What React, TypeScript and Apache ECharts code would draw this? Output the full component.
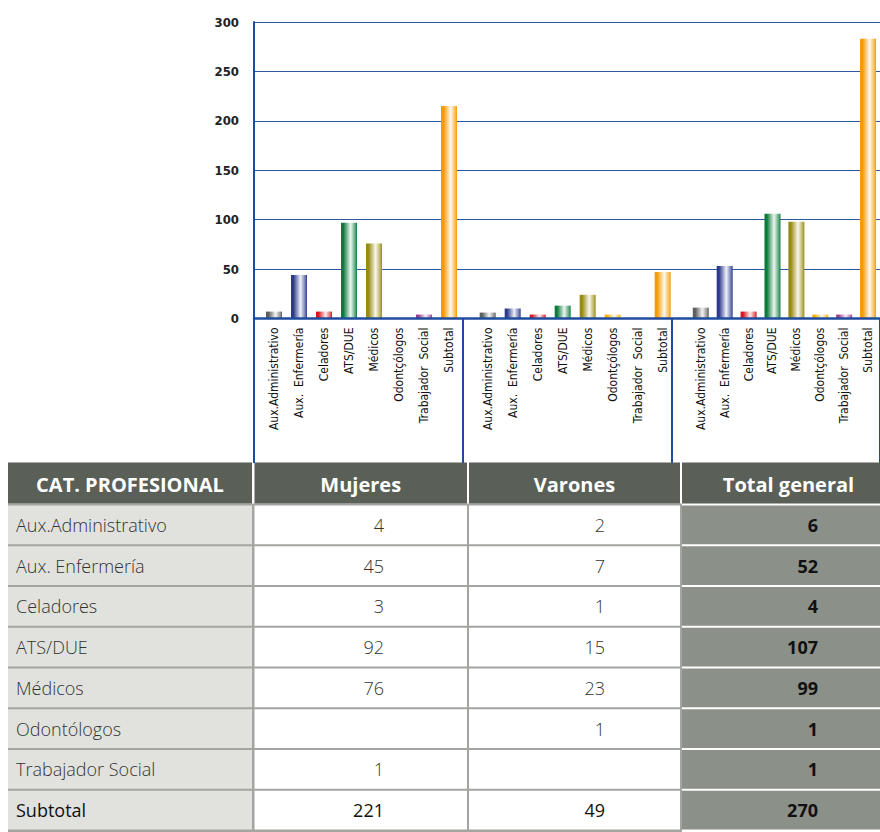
import React, { useEffect, useRef } from "react";
import * as echarts from "echarts";

// ---- Data ----
const groups = ["Mujeres", "Varones", "Total general"];
const barCategories = [
  "Aux.Administrativo",
  "Aux.  Enfermería",
  "Celadores",
  "ATS/DUE",
  "Médicos",
  "Odontçólogos",
  "Trabajador  Social",
  "Subtotal",
];
const mujeresBars = [7, 44, 7, 97, 76, 0, 4, 215];
const varonesBars = [6, 10, 4, 13, 24, 4, 0, 47];
const totalBars = [11, 53, 7, 106, 98, 4, 4, 283];

const tableHeader = ["CAT. PROFESIONAL", "Mujeres", "Varones", "Total general"];
const tableCategories = [
  "Aux.Administrativo",
  "Aux. Enfermería",
  "Celadores",
  "ATS/DUE",
  "Médicos",
  "Odontólogos",
  "Trabajador Social",
  "Subtotal",
];
const mujeresTable: (number | null)[] = [4, 45, 3, 92, 76, null, 1, 221];
const varonesTable: (number | null)[] = [2, 7, 1, 15, 23, 1, null, 49];
const totalTable: (number | null)[] = [6, 52, 4, 107, 99, 1, 1, 270];

// ---- Styles ----
const barColors = [
  "#5b5f5b",
  "#2b3a8c",
  "#d8141c",
  "#0b7a3c",
  "#978a10",
  "#f5b400",
  "#9c3a8c",
  "#f59a00",
];
const BLUE = "#1f4b9e";
const NARROW = '"DejaVu Sans Condensed", "Liberation Sans Narrow", sans-serif';
const HUMAN = '"Open Sans", Lato, sans-serif';

function mix(hex: string, t: number) {
  const n = parseInt(hex.slice(1), 16);
  const r = (n >> 16) & 255, g = (n >> 8) & 255, b = n & 255;
  const m = (c: number) => Math.round(c + (255 - c) * t);
  return `rgb(${m(r)},${m(g)},${m(b)})`;
}
function cyl(c: string) {
  return new echarts.graphic.LinearGradient(0, 0, 1, 0, [
    { offset: 0, color: c },
    { offset: 0.15, color: c },
    { offset: 0.6, color: mix(c, 0.93) },
    { offset: 0.9, color: mix(c, 0.3) },
    { offset: 1, color: c },
  ]);
}

export default function App() {
  const ref = useRef<HTMLDivElement>(null);
  useEffect(() => {
    if (!ref.current) return;
    const chart = echarts.init(ref.current, undefined, { renderer: "svg" });
    const top = 22;
    const bottom = 832 - 318.5;
    const seriesData = [mujeresBars, varonesBars, totalBars];

    const grid: any[] = [{ left: 254, width: 641, top, bottom }];
    const xAxis: any[] = [
      {
        gridIndex: 0,
        type: "category",
        data: groups,
        boundaryGap: true,
        axisLabel: { show: false },
        axisLine: { lineStyle: { color: BLUE, width: 2.5 } },
        axisTick: { show: true, interval: 0, length: 144.5, lineStyle: { color: BLUE, width: 2 } },
        z: 5,
      },
    ];
    const yAxis: any[] = [
      {
        gridIndex: 0,
        type: "value",
        min: 0,
        max: 300,
        interval: 50,
        axisLine: { show: true, lineStyle: { color: BLUE, width: 2 } },
        axisTick: { show: false },
        splitLine: { lineStyle: { color: "#2c58a6", width: 1.2 } },
        axisLabel: {
          fontFamily: NARROW,
          fontWeight: "bold",
          fontSize: 13,
          color: "#222",
          margin: 15,
        },
      },
    ];
    const series: any[] = [];
    for (let i = 0; i < 3; i++) {
      grid.push({ left: 261.5 + i * 213.67, width: 200, top, bottom });
      xAxis.push({
        gridIndex: i + 1,
        type: "category",
        data: barCategories,
        axisLine: { show: false },
        axisTick: { show: false },
        axisLabel: {
          rotate: 90,
          interval: 0,
          margin: 9,
          fontSize: 12,
          fontFamily: NARROW,
          color: "#111",
        },
      });
      yAxis.push({ gridIndex: i + 1, type: "value", min: 0, max: 300, show: false });
      series.push({
        type: "bar",
        name: groups[i],
        xAxisIndex: i + 1,
        yAxisIndex: i + 1,
        barWidth: 16,
        data: seriesData[i].map((v, j) => ({ value: v, itemStyle: { color: cyl(barColors[j]) } })),
      });
    }

    // ---- Table ----
    const colX = [8, 254.5, 469, 682];
    const colW = [244, 212.5, 211, 213];
    const headY = 462.5, headH = 41;
    const rowY0 = 505.5, rowStep = 40.75, rowH = 38.75;
    const numRight = [0, 384, 605, 818];
    const g: any[] = [];
    g.push({ type: "rect", shape: { x: 8, y: 503.5, width: 674, height: 330 }, style: { fill: "#a2a5a0" }, z: 10 });
    g.push({ type: "rect", shape: { x: 682, y: 503.5, width: 213, height: 330 }, style: { fill: "#ffffff" }, z: 10 });
    for (let c = 0; c < 4; c++) {
      g.push({
        type: "rect",
        shape: { x: colX[c], y: headY, width: colW[c], height: headH },
        style: { fill: "#5a5f58" },
        z: 11,
      });
      g.push({
        type: "text",
        z: 12,
        style: {
          text: tableHeader[c],
          x: colX[c] + colW[c] / 2,
          y: headY + headH / 2 + 1,
          fill: "#ffffff",
          fontSize: 20,
          fontWeight: "bold",
          fontFamily: HUMAN,
          align: "center",
          verticalAlign: "middle",
          textAlign: "center",
          textVerticalAlign: "middle",
        },
      });
    }
    const cols = [mujeresTable, varonesTable, totalTable];
    const fills = ["#e1e2de", "#ffffff", "#ffffff", "#8b9089"];
    for (let r = 0; r < tableCategories.length; r++) {
      const y = rowY0 + r * rowStep;
      const isSub = r === tableCategories.length - 1;
      for (let c = 0; c < 4; c++) {
        g.push({
          type: "rect",
          shape: { x: colX[c], y, width: colW[c], height: rowH },
          style: { fill: fills[c] },
          z: 11,
        });
      }
      g.push({
        type: "text",
        z: 12,
        style: {
          text: tableCategories[r],
          x: 16,
          y: y + rowH / 2,
          fill: isSub ? "#111" : "#333",
          fontSize: 18,
          fontWeight: isSub ? "normal" : 300,
          fontFamily: HUMAN,
          align: "left",
          verticalAlign: "middle",
          textAlign: "left",
          textVerticalAlign: "middle",
        },
      });
      for (let c = 1; c < 4; c++) {
        const v = cols[c - 1][r];
        if (v === null) continue;
        const bold = c === 3;
        g.push({
          type: "text",
          z: 12,
          style: {
            text: String(v),
            x: numRight[c],
            y: y + rowH / 2,
            fill: bold || isSub ? "#111" : "#333",
            fontSize: 18,
            fontWeight: bold ? "bold" : isSub ? "normal" : 300,
            fontFamily: HUMAN,
            align: "right",
            verticalAlign: "middle",
            textAlign: "right",
            textVerticalAlign: "middle",
          },
        });
      }
    }

    chart.setOption({
      animation: false,
      backgroundColor: "#ffffff",
      grid,
      xAxis,
      yAxis,
      series,
      graphic: { elements: g },
    });
    return () => chart.dispose();
  }, []);
  return (
    <div
      ref={ref}
      style={{ position: "fixed", left: 0, top: 0, width: 880, height: 832 }}
    />
  );
}
